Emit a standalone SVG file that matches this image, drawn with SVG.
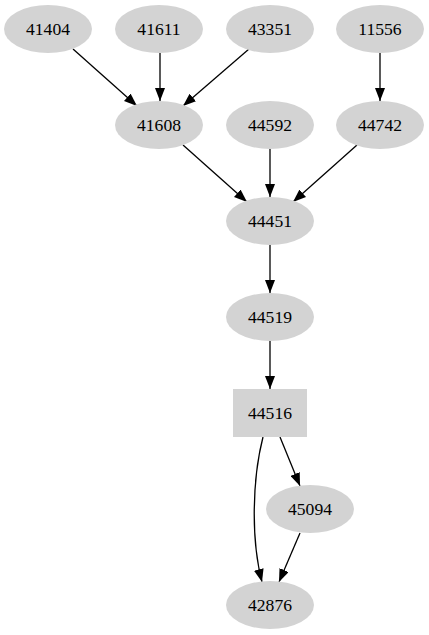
<svg xmlns="http://www.w3.org/2000/svg" width="429" height="635" viewBox="0 0 429 635">
<style>
.n ellipse, .n rect { fill: #d3d3d3; stroke: none; }
.n text { font-family: "Liberation Serif", "Times New Roman", serif; font-size: 17.6px; text-anchor: middle; fill: #000; }
.e path { fill: none; stroke: #000; stroke-width: 1.3; }
</style>
<defs>
<marker id="ah" viewBox="0 0 13 10" refX="13" refY="5" markerWidth="13" markerHeight="10" markerUnits="userSpaceOnUse" orient="auto">
<path d="M0,0 L13,5 L0,10 z" fill="#000"/>
</marker>
</defs>
<g id="edges" class="e">
<path d="M73,49 L137,106" marker-end="url(#ah)"/>
<path d="M160,53 L160,101" marker-end="url(#ah)"/>
<path d="M249,49 L183,106" marker-end="url(#ah)"/>
<path d="M380,53 L380,101" marker-end="url(#ah)"/>
<path d="M183,145 L247,202" marker-end="url(#ah)"/>
<path d="M270,149 L270,197" marker-end="url(#ah)"/>
<path d="M357,145 L293,202" marker-end="url(#ah)"/>
<path d="M270,245 L270,293" marker-end="url(#ah)"/>
<path d="M270,341 L270,389" marker-end="url(#ah)"/>
<path d="M280,437 L300,486" marker-end="url(#ah)"/>
<path d="M263,437 C252,480 251,540 262,582" marker-end="url(#ah)"/>
<path d="M300,533 L279,582" marker-end="url(#ah)"/>
</g>
<g id="n41404" class="n"><ellipse cx="48" cy="29" rx="44" ry="24"/><text x="48" y="35">41404</text></g>
<g id="n41611" class="n"><ellipse cx="159" cy="29" rx="44" ry="24"/><text x="159" y="35">41611</text></g>
<g id="n43351" class="n"><ellipse cx="270" cy="29" rx="44" ry="24"/><text x="270" y="35">43351</text></g>
<g id="n11556" class="n"><ellipse cx="380" cy="29" rx="44" ry="24"/><text x="380" y="35">11556</text></g>
<g id="n41608" class="n"><ellipse cx="159" cy="125" rx="44" ry="24"/><text x="159" y="131">41608</text></g>
<g id="n44592" class="n"><ellipse cx="270" cy="125" rx="44" ry="24"/><text x="270" y="131">44592</text></g>
<g id="n44742" class="n"><ellipse cx="380" cy="125" rx="44" ry="24"/><text x="380" y="131">44742</text></g>
<g id="n44451" class="n"><ellipse cx="270" cy="221" rx="44" ry="24"/><text x="270" y="227">44451</text></g>
<g id="n44519" class="n"><ellipse cx="270" cy="317" rx="44" ry="24"/><text x="270" y="323">44519</text></g>
<g id="n44516" class="n"><rect x="233" y="389" width="74" height="48"/><text x="270" y="419">44516</text></g>
<g id="n45094" class="n"><ellipse cx="310" cy="509" rx="44" ry="24"/><text x="310" y="515">45094</text></g>
<g id="n42876" class="n"><ellipse cx="270" cy="605" rx="44" ry="24"/><text x="270" y="611">42876</text></g>
</svg>
